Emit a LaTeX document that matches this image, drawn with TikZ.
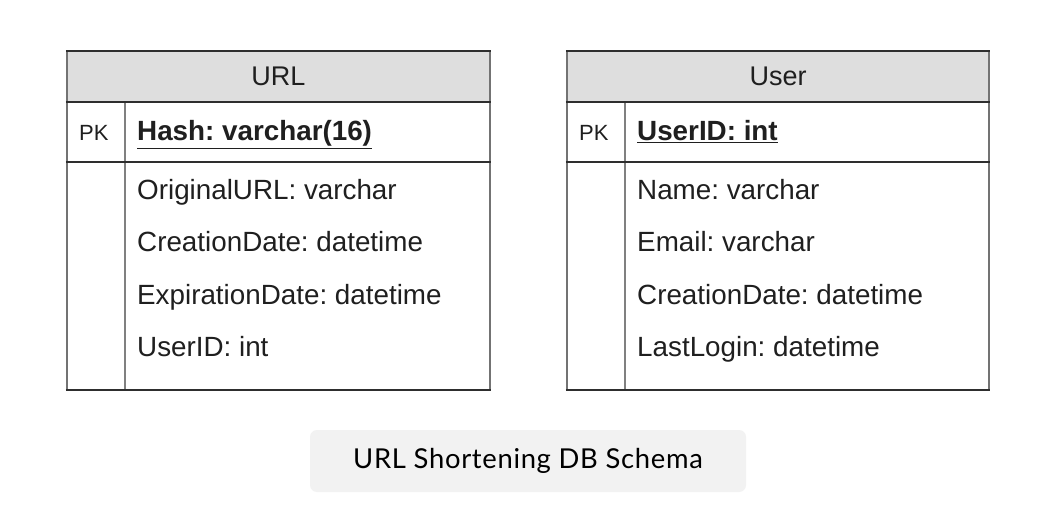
\documentclass[tikz,border=0pt]{standalone}
\usepackage{fontspec}
\setmainfont{Liberation Sans}
\newfontfamily\capfont[LetterSpace=2.5]{Lato}
\frenchspacing
\begin{document}
\begin{tikzpicture}[x=1pt,y=-1pt,
  hdrfill/.style={fill=black!13},
  hline/.style={draw=black!82,line width=2.4pt},
  vline/.style={draw=black!55,line width=2.6pt},
  divline/.style={draw=black!50,line width=2.2pt},
  title/.style={font=\fontsize{27}{31}\selectfont,text=black!88},
  field/.style={anchor=base west,font=\fontsize{27.8}{32}\selectfont,text=black!88,inner sep=0pt},
  keylbl/.style={anchor=base west,font=\fontsize{22}{26}\selectfont,text=black!88,inner sep=0pt},
  capbox/.style={fill=black!5,rounded corners=7pt},
  captext/.style={font=\capfont\fontsize{27.4}{31}\selectfont,text=black}
]
\useasboundingbox (0,0) rectangle (1052,510);
\fill[white] (0,0) rectangle (1052,510);

% #1 left x, #2 right x, #3 name prefix, #4 title, #5 primary key, #6-#9 fields
\newcommand\erdtable[9]{%
  \fill[hdrfill] (#1,51) rectangle (#2,102);
  \draw[divline] (#1+58,102) -- (#1+58,390);
  \draw[vline] (#1,51) -- (#1,390);
  \draw[vline] (#2,51) -- (#2,390);
  \draw[hline] (#1-1.2,51) -- (#2+1.2,51);
  \draw[hline] (#1-1.2,102) -- (#2+1.2,102);
  \draw[hline] (#1-1.2,162) -- (#2+1.2,162);
  \draw[hline] (#1-1.2,390) -- (#2+1.2,390);
  \node[title] (#3-title) at ({(#1+#2)/2},76) {#4};
  \node[keylbl] (#3-pk) at (#1+12,141) {PK};
  \node[field] (#3-key) at (#1+70,141) {\textbf{\underline{#5}}};
  \node[field] (#3-f1) at (#1+70,200) {#6};
  \node[field] (#3-f2) at (#1+70,252) {#7};
  \node[field] (#3-f3) at (#1+70,305) {#8};
  \node[field] (#3-f4) at (#1+70,357) {#9};
}

\erdtable{67}{490}{url}{URL}{Hash: varchar(16)}%
  {OriginalURL: varchar}{CreationDate: datetime}{ExpirationDate: datetime}{UserID: int}
\erdtable{567}{989}{user}{User}{UserID: int}%
  {Name: varchar}{Email: varchar}{CreationDate: datetime}{LastLogin: datetime}

% caption
\fill[capbox] (310,430) rectangle (746,492);
\node[captext] (caption) at (528,461) {URL Shortening DB Schema};
\end{tikzpicture}
\end{document}
